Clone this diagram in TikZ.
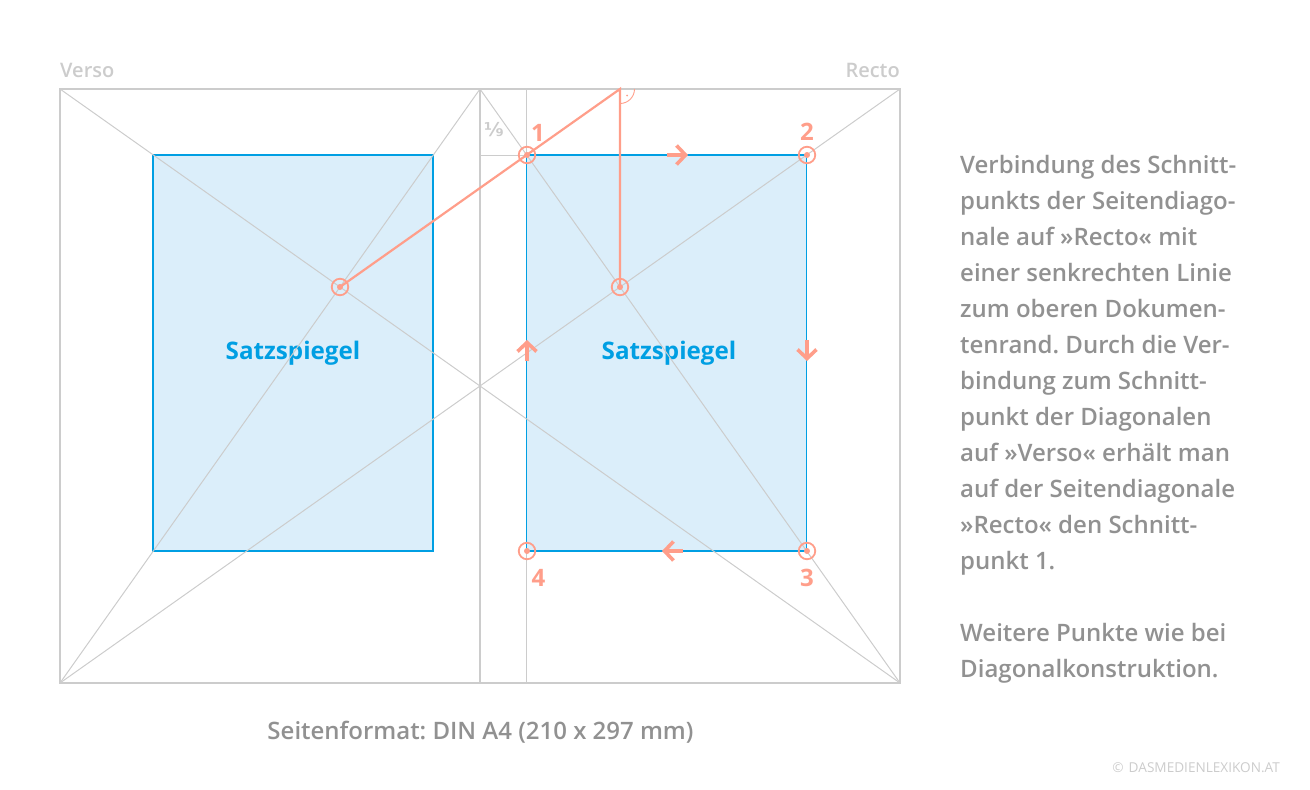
\documentclass[tikz,border=0pt]{standalone}
\usepackage{fontspec}
\setmainfont{Open Sans}
\newfontfamily\semibold{Open Sans Semibold}
\newfontfamily\fractionfont{DejaVu Sans}
\frenchspacing
\usepackage{xcolor}
\usetikzlibrary{arrows.meta, calc}
\definecolor{salmon}{HTML}{FF9E8A}
\definecolor{cyanline}{HTML}{009FE3}
\definecolor{satzfill}{HTML}{DBEEFA}
\definecolor{guide}{HTML}{CCCCCC}
\definecolor{bodytext}{HTML}{919191}
\tikzset{
    >={Straight Barb[length=9pt, width=19pt, line width=3.6pt]},
    page/.style={guide, line width=2pt},
    diagonal/.style={guide, line width=1pt},
    satz/.style={cyanline, line width=1.1pt},
    construct/.style={salmon, line width=2.2pt},
    flow/.style={salmon, line width=3.4pt, ->},
    marker/.style={shape=circle, draw=salmon, line width=1.8pt, minimum size=16.5pt, inner sep=0pt},
    markerdot/.style={shape=circle, fill=salmon, minimum size=6pt, inner sep=0pt},
    pointnum/.style={salmon, font=\bfseries\fontsize{24}{28}\selectfont},
    sidename/.style={guide, font=\semibold\fontsize{20}{24}\selectfont},
    satzname/.style={cyanline, font=\bfseries\fontsize{24.2}{28}\selectfont},
    bodynote/.style={bodytext, font=\semibold\fontsize{24}{36}\selectfont},
}
\begin{document}
\begin{tikzpicture}[x=1pt, y=-1pt]
    \useasboundingbox (0,0) rectangle (1310,790);
    % page corners
    \coordinate (tl) at (60,89);
    \coordinate (tm) at (480,89);
    \coordinate (tr) at (900,89);
    \coordinate (bl) at (60,683);
    \coordinate (bm) at (480,683);
    \coordinate (br) at (900,683);
    % type areas
    \fill[satzfill] (153,155) rectangle (433,551);
    \fill[satzfill] (526.5,155) rectangle (806.5,551);
    \draw[satz] (153,155) rectangle (433,551);
    \draw[satz] (526.5,155) rectangle (806.5,551);
    \node[satzname] (satzverso) at (293,353) {Satzspiegel};
    \node[satzname] (satzrecto) at (669,353) {Satzspiegel};
    % diagonals
    \foreach \a/\b in {tm/bl,tm/br,tl/br,bl/tr}
        \draw[diagonal] (\a) -- (\b);
    \draw[diagonal] (526.5,89) -- (526.5,155);
    \draw[diagonal] (526.5,551) -- (526.5,683);
    \draw[diagonal] (480,155) -- (526.5,155);
    \draw[page] (tl) rectangle (br);
    \draw[page] (tm) -- (bm);
    % construction
    \coordinate (top) at (620,89);
    \node[marker] (cverso) at (340,287) {};
    \node[marker] (crecto) at (620,287) {};
    \foreach \n/\x/\y in {p1/527/155,p2/807/155,p3/807/551,p4/527/551}
        \node[marker] (\n) at (\x,\y) {};
    \foreach \n in {cverso,crecto,p1,p2,p3,p4}
        \node[markerdot] at (\n) {};
    \draw[construct] (cverso.center) -- (top) -- (crecto.center);
    \draw[salmon, line width=0.9pt] (620,103.5) arc[start angle=90, end angle=0, radius=14.5];
    \node[shape=circle, fill=salmon, inner sep=0pt, minimum size=2pt] (rightdot) at (627,95.5) {};
    % corner arrows
    \draw[flow] (667,155) -- (688,155);
    \draw[flow] (807,340) -- (807,361);
    \draw[flow] (683,551) -- (662,551);
    \draw[flow] (527,361) -- (527,340);
    % labels
    \node[pointnum] (n1) at (538,132.5) {1};
    \node[pointnum] (n2) at (807,131.5) {2};
    \node[pointnum] (n3) at (807,578) {3};
    \node[pointnum] (n4) at (538.5,578) {4};
    \node[guide, font=\fractionfont\bfseries\fontsize{19}{23}\selectfont] (frac) at (494,130) {⅑};
    \node[sidename, anchor=west, inner sep=0pt] (verso) at (60,70) {Verso};
    \node[sidename, anchor=east, inner sep=0pt] (recto) at (900,70) {Recto};
    \node[bodytext, font=\semibold\fontsize{24}{28}\selectfont] (format) at (480.5,732) {Seitenformat: DIN A4 (210 x 297 mm)};
    \node[bodynote, anchor=north west, align=left, inner sep=0pt] (note) at (960,155) {Verbindung des Schnitt-\\punkts der Seitendiago-\\nale auf »Recto« mit\\einer senkrechten Linie\\zum oberen Dokumen-\\tenrand. Durch die Ver-\\bindung zum Schnitt-\\punkt der Diagonalen\\auf »Verso« erhält man\\auf der Seitendiagonale\\»Recto« den Schnitt-\\punkt 1.\\[36pt]Weitere Punkte wie bei\\Diagonalkonstruktion.};
    \node[guide, font=\fontsize{13.6}{16}\selectfont, anchor=east, inner sep=0pt] (credit) at (1280,768) {©\hspace{5pt}DASMEDIENLEXIKON.AT};
\end{tikzpicture}
\end{document}
